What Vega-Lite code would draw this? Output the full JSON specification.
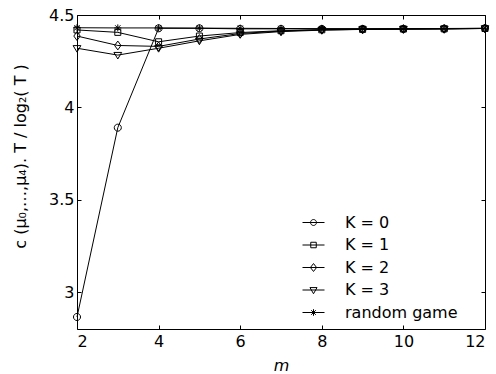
{
  "$schema": "https://vega.github.io/schema/vega-lite/v6.json",
  "width": 408,
  "height": 314,
  "autosize": "none",
  "padding": {"left": 77, "top": 15, "right": 11, "bottom": 45},
  "config": {
    "font": "DejaVu Sans",
    "view": {"stroke": "black", "strokeWidth": 1},
    "axis": {"domain": false, "grid": false, "tickColor": "black", "labelColor": "black", "titleColor": "black", "labelFontSize": 16, "titleFontSize": 16, "titleFontWeight": "normal", "tickSize": -4, "tickWidth": 1}
  },
  "data": {"values": [
    {"m": 2, "series": "K = 0", "value": 2.865},
    {"m": 3, "series": "K = 0", "value": 3.89},
    {"m": 4, "series": "K = 0", "value": 4.428},
    {"m": 5, "series": "K = 0", "value": 4.428},
    {"m": 6, "series": "K = 0", "value": 4.425},
    {"m": 7, "series": "K = 0", "value": 4.425},
    {"m": 8, "series": "K = 0", "value": 4.425},
    {"m": 9, "series": "K = 0", "value": 4.425},
    {"m": 10, "series": "K = 0", "value": 4.425},
    {"m": 11, "series": "K = 0", "value": 4.426},
    {"m": 12, "series": "K = 0", "value": 4.428},
    {"m": 2, "series": "K = 1", "value": 4.419},
    {"m": 3, "series": "K = 1", "value": 4.406},
    {"m": 4, "series": "K = 1", "value": 4.355},
    {"m": 5, "series": "K = 1", "value": 4.386},
    {"m": 6, "series": "K = 1", "value": 4.405},
    {"m": 7, "series": "K = 1", "value": 4.415},
    {"m": 8, "series": "K = 1", "value": 4.42},
    {"m": 9, "series": "K = 1", "value": 4.422},
    {"m": 10, "series": "K = 1", "value": 4.424},
    {"m": 11, "series": "K = 1", "value": 4.425},
    {"m": 12, "series": "K = 1", "value": 4.427},
    {"m": 2, "series": "K = 2", "value": 4.386},
    {"m": 3, "series": "K = 2", "value": 4.335},
    {"m": 4, "series": "K = 2", "value": 4.33},
    {"m": 5, "series": "K = 2", "value": 4.37},
    {"m": 6, "series": "K = 2", "value": 4.4},
    {"m": 7, "series": "K = 2", "value": 4.413},
    {"m": 8, "series": "K = 2", "value": 4.42},
    {"m": 9, "series": "K = 2", "value": 4.422},
    {"m": 10, "series": "K = 2", "value": 4.424},
    {"m": 11, "series": "K = 2", "value": 4.425},
    {"m": 12, "series": "K = 2", "value": 4.427},
    {"m": 2, "series": "K = 3", "value": 4.32},
    {"m": 3, "series": "K = 3", "value": 4.283},
    {"m": 4, "series": "K = 3", "value": 4.32},
    {"m": 5, "series": "K = 3", "value": 4.36},
    {"m": 6, "series": "K = 3", "value": 4.395},
    {"m": 7, "series": "K = 3", "value": 4.41},
    {"m": 8, "series": "K = 3", "value": 4.418},
    {"m": 9, "series": "K = 3", "value": 4.422},
    {"m": 10, "series": "K = 3", "value": 4.424},
    {"m": 11, "series": "K = 3", "value": 4.425},
    {"m": 12, "series": "K = 3", "value": 4.427},
    {"m": 2, "series": "random game", "value": 4.431},
    {"m": 3, "series": "random game", "value": 4.43},
    {"m": 4, "series": "random game", "value": 4.43},
    {"m": 5, "series": "random game", "value": 4.429},
    {"m": 6, "series": "random game", "value": 4.428},
    {"m": 7, "series": "random game", "value": 4.427},
    {"m": 8, "series": "random game", "value": 4.426},
    {"m": 9, "series": "random game", "value": 4.426},
    {"m": 10, "series": "random game", "value": 4.426},
    {"m": 11, "series": "random game", "value": 4.427},
    {"m": 12, "series": "random game", "value": 4.428}
  ]},
  "layer": [
    {
      "mark": {"type": "line", "stroke": "black", "strokeWidth": 1},
      "encoding": {
        "x": {"field": "m", "type": "quantitative", "scale": {"domain": [2, 12], "nice": false, "zero": false},
              "axis": {"values": [2, 4, 6, 8, 10, 12], "title": "m", "titleFontStyle": "italic", "labelPadding": 8, "titlePadding": 8}},
        "y": {"field": "value", "type": "quantitative", "scale": {"domain": [2.8, 4.5], "nice": false, "zero": false},
              "axis": {"values": [3, 3.5, 4, 4.5], "format": "~g", "title": "c (μ₀,…,μ₄). T / log₂( T )", "labelPadding": 7, "titleX": -52, "titleY": 141, "titleBaseline": "alphabetic", "titleAngle": -90}},
        "detail": {"field": "series"}
      }
    },
    {
      "mark": {"type": "point", "filled": false, "stroke": "black", "strokeWidth": 1, "size": 50, "opacity": 1},
      "encoding": {
        "x": {"field": "m", "type": "quantitative", "axis": null},
        "y": {"field": "value", "type": "quantitative", "axis": null},
        "shape": {
          "field": "series", "type": "nominal", "legend": null,
          "scale": {
            "domain": ["K = 0", "K = 1", "K = 2", "K = 3", "random game"],
            "range": [
              "M-1,0A1,1,0,1,1,1,0A1,1,0,1,1,-1,0Z",
              "M-0.85,-0.85H0.85V0.85H-0.85Z",
              "M0,-1.25L0.9,0L0,1.25L-0.9,0Z",
              "M-1.1,-0.75H1.1L0,1.1Z",
              "M-1,0H1M0,-1V1M-0.75,-0.75L0.75,0.75M-0.75,0.75L0.75,-0.75"
            ]
          }
        }
      }
    },
    {
      "mark": {"type": "point", "filled": false, "stroke": "black", "strokeWidth": 1, "size": 484, "opacity": 0},
      "encoding": {
        "x": {"field": "m", "type": "quantitative", "axis": null},
        "y": {"field": "value", "type": "quantitative", "axis": null},
        "shape": {
          "field": "series", "type": "nominal",
          "scale": {
            "domain": ["K = 0", "K = 1", "K = 2", "K = 3", "random game"],
            "range": [
              "M-1,0H1M-0.27,0A0.27,0.27,0,1,1,0.27,0A0.27,0.27,0,1,1,-0.27,0",
              "M-1,0H1M-0.25,-0.25H0.25V0.25H-0.25Z",
              "M-1,0H1M0,-0.36L0.28,0L0,0.36L-0.28,0Z",
              "M-1,0H1M-0.32,-0.22H0.32L0,0.34Z",
              "M-1,0H1M-0.3,0H0.3M0,-0.3V0.3M-0.21,-0.21L0.21,0.21M-0.21,0.21L0.21,-0.21"
            ]
          },
          "legend": {
            "title": null,
            "orient": "none",
            "legendX": 225,
            "legendY": 196,
            "padding": 0,
            "rowPadding": 2.5,
            "labelOffset": 20,
            "labelFontSize": 16,
            "labelColor": "black",
            "symbolSize": 484,
            "symbolOpacity": 1,
            "symbolStrokeColor": "black",
            "symbolFillColor": "transparent",
            "symbolStrokeWidth": 1
          }
        }
      }
    },
    {
      "mark": {"type": "line", "strokeOpacity": 0},
      "encoding": {
        "x": {"field": "m", "type": "quantitative", "axis": {"orient": "top", "values": [2, 4, 6, 8, 10, 12], "labels": false, "title": null}},
        "y": {"field": "value", "type": "quantitative", "axis": {"orient": "right", "values": [3, 3.5, 4, 4.5], "labels": false, "title": null}},
        "detail": {"field": "series"}
      }
    }
  ],
  "resolve": {"axis": {"x": "independent", "y": "independent"}, "scale": {"shape": "independent"}}
}
